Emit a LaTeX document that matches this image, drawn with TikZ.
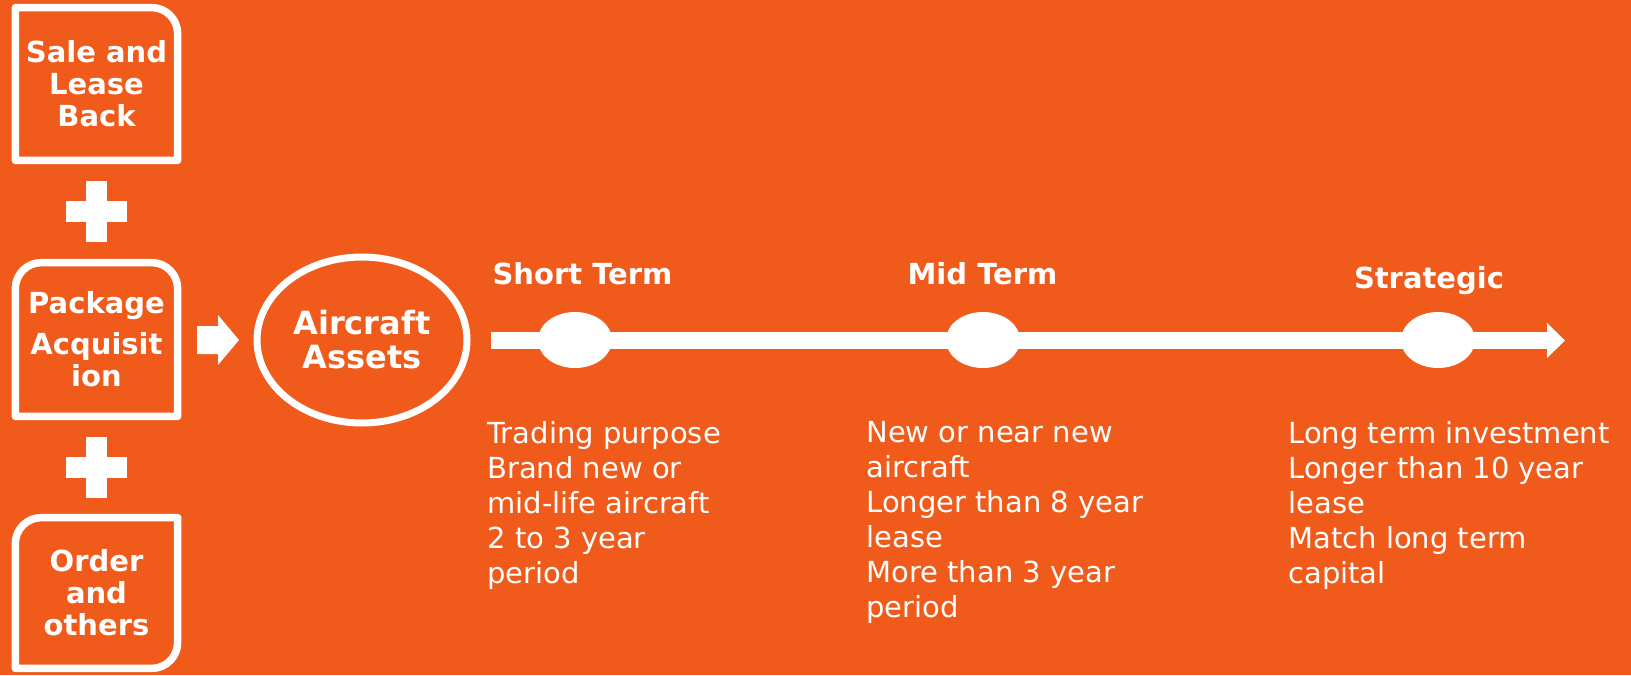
\documentclass[tikz,border=0pt]{standalone}
\usepackage{fontspec}
\setmainfont{DejaVu Sans}
\usetikzlibrary{positioning}
\usetikzlibrary{shapes}
\usetikzlibrary{arrows.meta}
\definecolor{bgorange}{RGB}{240,90,26}
\tikzset{
  source_box/.style={draw = none, inner sep = 0, minimum width = 80.75pt, text = white, align = center, font = \bfseries\fontsize{14.5}{16}\selectfont},
  box_line/.style={draw = white, line width = 3.75pt, line join = round},
  plus_bar/.style={fill = white},
  asset_ring/.style={ellipse, draw = white, line width = 3.5pt, minimum width = 105pt, minimum height = 83pt, inner sep = 0, text = white, align = center, font = \bfseries\fontsize{16}{17}\selectfont},
  stage_dot/.style={ellipse, fill = white, minimum width = 37pt, minimum height = 28pt, inner sep = 0},
  stage_title/.style={anchor = base, inner sep = 0, text = white, font = \bfseries\fontsize{14.5}{17.5}\selectfont},
  stage_text/.style={anchor = north west, inner sep = 0, text = white, align = left, font = \fontsize{14.5}{17.5}\selectfont},
  time_line/.style={draw = white, line width = 8.5pt, -{Triangle[length = 9pt, width = 17pt]}}
}
\begin{document}
\begin{tikzpicture}[x = 0.5pt, y = -0.5pt]
\fill[bgorange] (0,0) rectangle (1631,675);
\useasboundingbox (0,0) rectangle (1631,675);

%% sources
\node[source_box, minimum height = 76pt] at (96.5,84)    (sale)    {Sale and\\Lease\\Back};
\node[source_box, minimum height = 76.5pt] at (96.5,339.5) (package) {\raisebox{-1.5pt}{Package}\\[6pt]Acquisit\\ion};
\node[source_box, minimum height = 75pt] at (96.5,593)   (order)   {Order\\and\\others};

\draw[box_line] (sale.south west) -- (sale.north west) [rounded corners = 13pt] -- (sale.north east) [sharp corners] -- (sale.south east) -- cycle;
\draw[box_line] (package.south west) [rounded corners = 13pt] -- (package.north west) -- (package.north east) [sharp corners] -- (package.south east) -- cycle;
\draw[box_line] (order.south west) [rounded corners = 13pt] -- (order.north west) [sharp corners] -- (order.north east) [rounded corners = 13pt] -- (order.south east) [sharp corners] -- cycle;

%% plus signs
\coordinate (plusa) at (96.5,211.5);
\coordinate (plusb) at (96.5,467);
\foreach \p in {plusa, plusb} {
    \fill[plus_bar] ([shift = {(-30.5,-10.5)}]\p) rectangle ([shift = {(30.5,10.5)}]\p);
    \fill[plus_bar] ([shift = {(-10.5,-30.5)}]\p) rectangle ([shift = {(10.5,30.5)}]\p);
}

%% assets
\node[asset_ring] at (362,340) (assets) {Aircraft\\Assets};
\fill[white] (197,326) -- (218,326) -- (218,315) -- (239,340) -- (218,365) -- (218,354) -- (197,354) -- cycle;

%% timeline
\coordinate (tstart) at (491,340.5);
\coordinate (tend) at (1565,340.5);
\draw[time_line] (tstart) -- (tend);

\node[stage_dot] at (575,340)  (shortdot) {};
\node[stage_dot] at (983,340)  (middot)   {};
\node[stage_dot] at (1438,340) (stratdot) {};

\node[stage_title] at (582.5,284) (shorttitle) {Short Term};
\node[stage_title] at (982.5,284) (midtitle)   {Mid Term};
\node[stage_title] at (1429,288)  (strattitle) {Strategic};

\node[stage_text] at (487,421)  (shorttext) {Trading purpose\\Brand new or\\mid-life aircraft\\2 to 3 year\\period};
\node[stage_text] at (866,421)  (midtext)   {New or near new\\aircraft\\Longer than 8 year\\lease\\More than 3 year\\period};
\node[stage_text] at (1288,421) (strattext) {Long term investment\\Longer than 10 year\\lease\\Match long term\\capital};
\end{tikzpicture}
\end{document}
